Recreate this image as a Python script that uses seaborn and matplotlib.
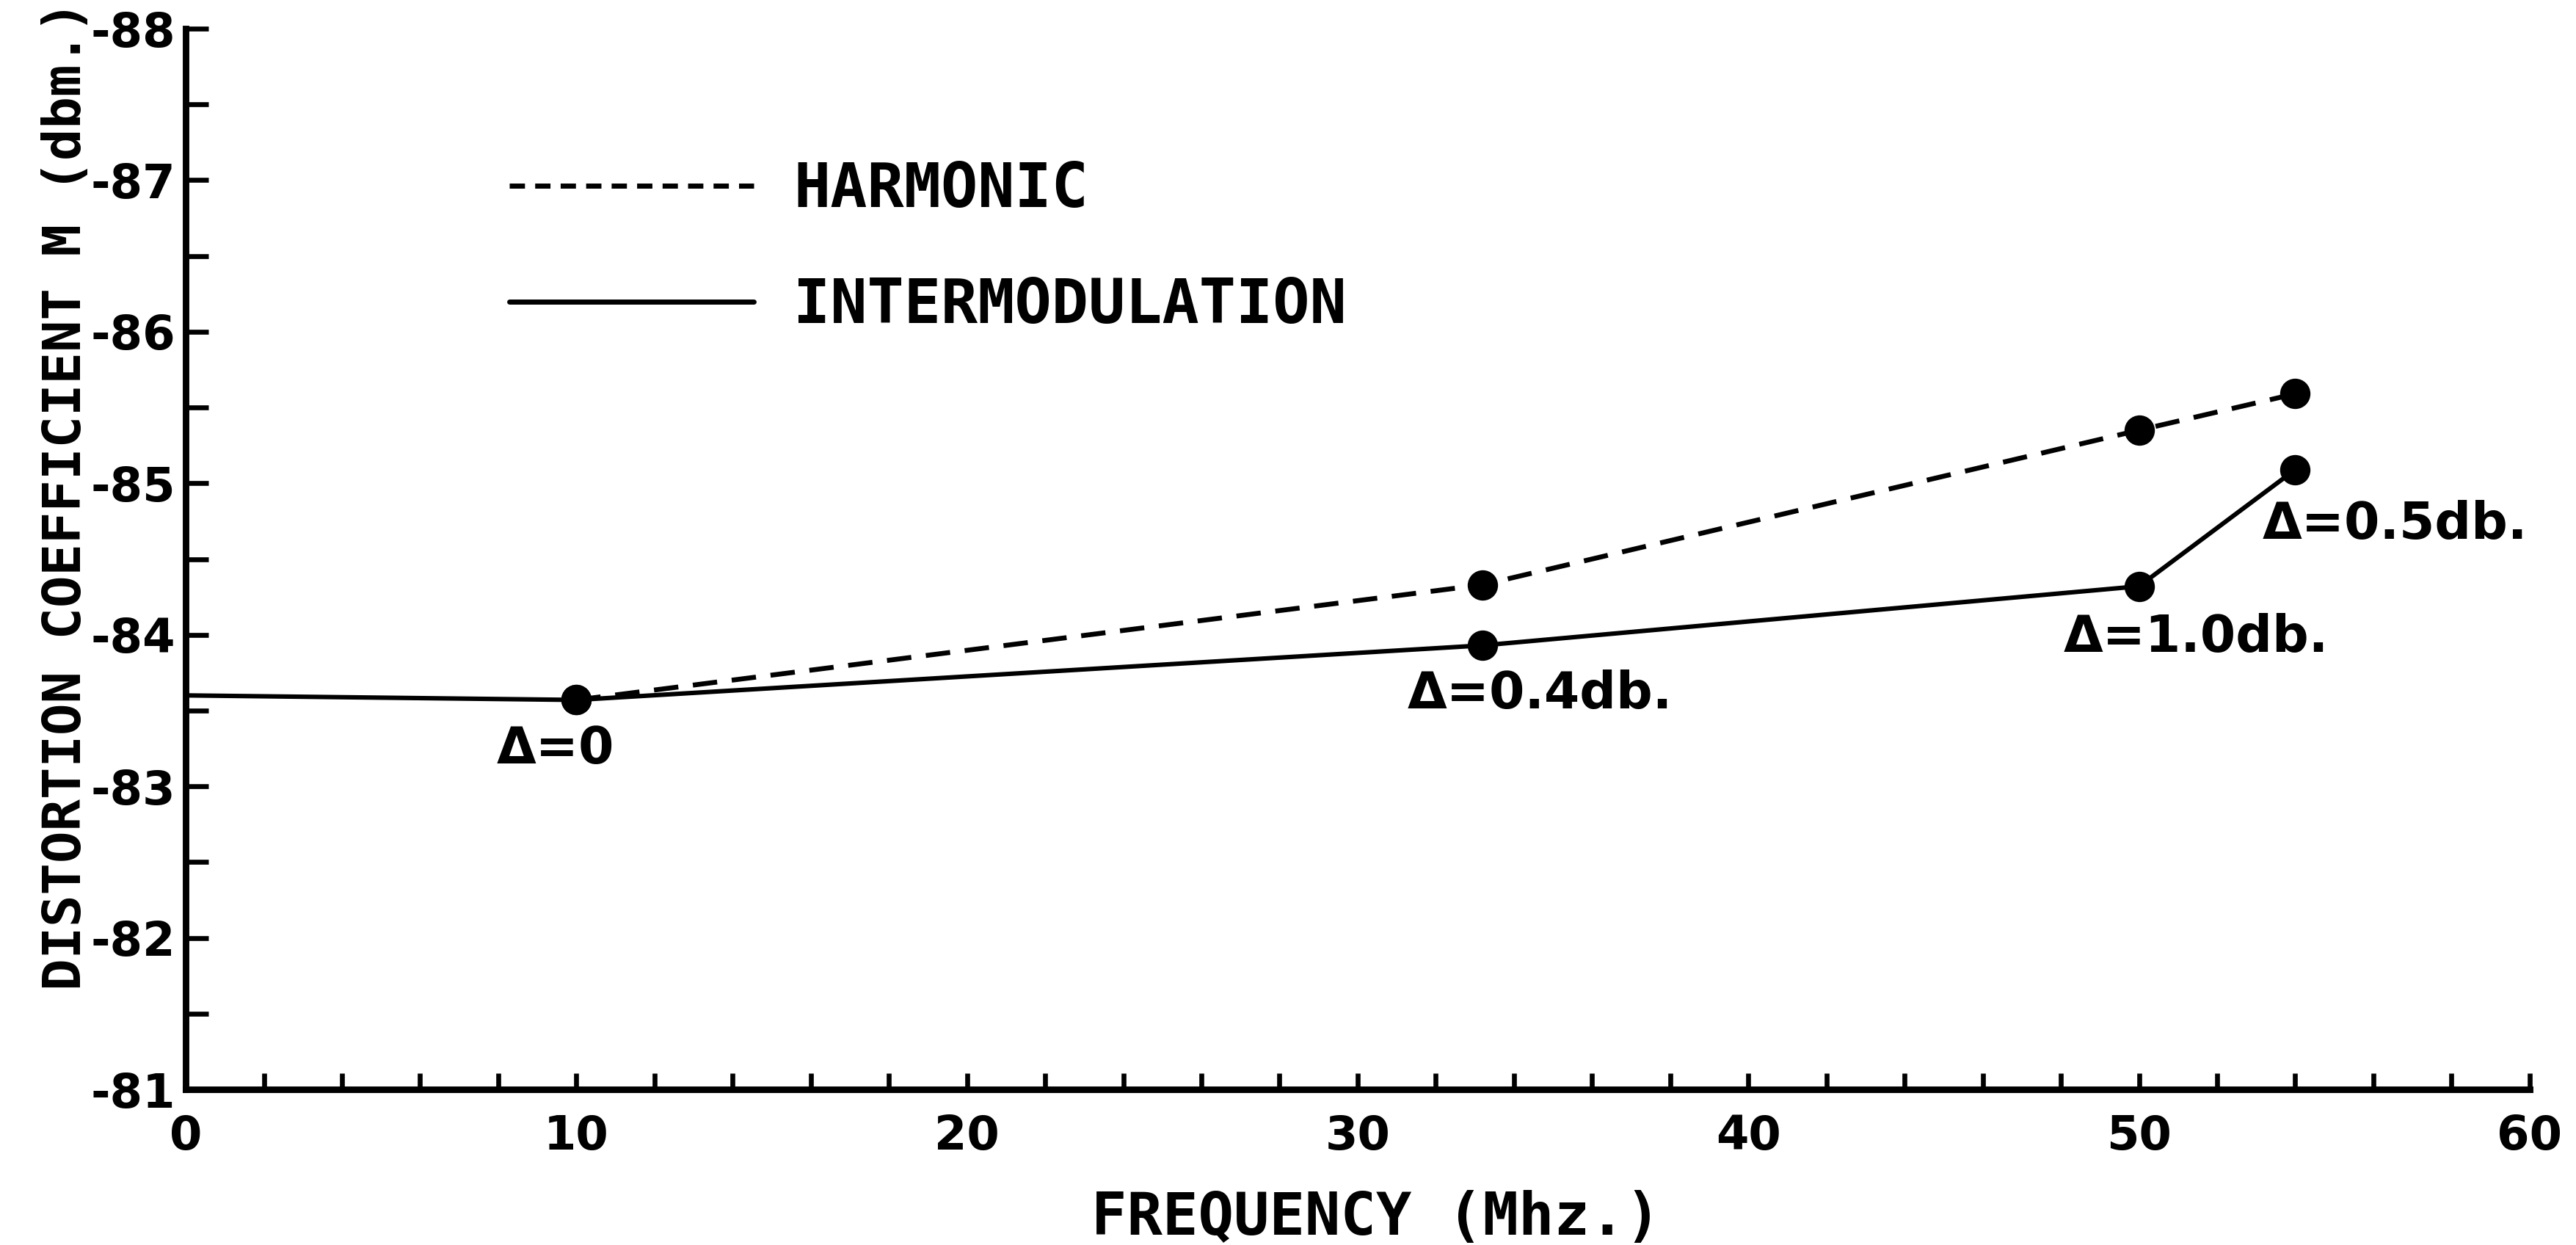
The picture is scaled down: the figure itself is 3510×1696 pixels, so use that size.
import matplotlib
matplotlib.use("Agg")
import matplotlib.pyplot as plt
import numpy as np
import pandas as pd
import seaborn as sns
from matplotlib.lines import Line2D
from matplotlib.ticker import MultipleLocator

# values
harmonic_freq = [10, 33.2, 50, 54]
harmonic_m = [-83.57, -84.33, -85.35, -85.59]

intermod_freq = [0, 10, 33.2, 50, 54]
intermod_m = [-83.6, -83.57, -83.93, -84.32, -85.09]

delta_labels = ["\u0394=0", "\u0394=0.4db.", "\u0394=1.0db.", "\u0394=0.5db."]
# offsets (points) of each label from its intermod point
delta_offsets = [(-39, -24), (-37, -24), (-37, -25), (-16, -27)]

sns.set_theme(style="ticks")
plt.rcParams['font.family'] = ['DejaVu Sans']
plt.rcParams['axes.unicode_minus'] = False
plt.rcParams['text.color'] = 'black'
plt.rcParams['axes.labelcolor'] = 'black'
plt.rcParams['xtick.color'] = 'black'
plt.rcParams['ytick.color'] = 'black'

fig = plt.figure(figsize=(17.55, 8.48), dpi=200)
ax = fig.add_axes([0.0721, 0.125, 0.9099, 0.852])

harm = pd.DataFrame({"freq": harmonic_freq, "m": harmonic_m})
inter = pd.DataFrame({"freq": intermod_freq, "m": intermod_m})

sns.lineplot(data=harm, x="freq", y="m", ax=ax, color="black", lw=2.4,
             linestyle=(0, (5, 3)), legend=False)
sns.lineplot(data=inter, x="freq", y="m", ax=ax, color="black", lw=2.2,
             legend=False)
sns.scatterplot(data=harm, x="freq", y="m", ax=ax, color="black",
                s=190, edgecolor="black", zorder=5, legend=False)
sns.scatterplot(data=inter.iloc[1:], x="freq", y="m", ax=ax, color="black",
                s=190, edgecolor="black", zorder=5, legend=False)

for i, (lab, off) in enumerate(zip(delta_labels, delta_offsets)):
    ax.annotate(lab, (inter["freq"].iloc[i + 1], inter["m"].iloc[i + 1]),
                xytext=off, textcoords="offset points", ha="left", va="center",
                fontsize=25, fontweight="bold")

ax.set_xlim(0, 60)
ax.set_ylim(-81, -88)
ax.xaxis.set_major_locator(MultipleLocator(10))
ax.xaxis.set_minor_locator(MultipleLocator(2))
ax.yaxis.set_major_locator(MultipleLocator(1))
ax.yaxis.set_minor_locator(MultipleLocator(0.5))

ax.tick_params(axis="x", which="both", direction="in", length=8, width=2.4,
               color="black", pad=12, labelsize=23)
ax.tick_params(axis="y", which="both", direction="in", length=11, width=2.4,
               color="black", pad=5, labelsize=23)
for t in ax.get_xticklabels() + ax.get_yticklabels():
    t.set_fontweight("bold")

sns.despine(ax=ax)
for side in ["left", "bottom"]:
    ax.spines[side].set_linewidth(3.2)
    ax.spines[side].set_color("black")

ax.set_xlabel("FREQUENCY (Mhz.)", fontsize=29, family="DejaVu Sans Mono",
              fontweight="bold")
ax.set_ylabel("DISTORTION COEFFICIENT M (dbm.)", fontsize=26,
              family="DejaVu Sans Mono", fontweight="bold")
ax.xaxis.set_label_coords(0.508, -0.095)
ax.yaxis.set_label_coords(-0.04, 0.56)

handles = [Line2D([], [], color="black", lw=2.5, linestyle=(0, (3, 2))),
           Line2D([], [], color="black", lw=2.5)]
ax.legend(handles, ["HARMONIC", "INTERMODULATION"], loc="upper left",
          bbox_to_anchor=(0.138, 0.876), frameon=False, borderaxespad=0,
          borderpad=0, handlelength=4.0, handletextpad=0.65, labelspacing=0.92,
          prop={"family": "DejaVu Sans Mono", "size": 30, "weight": "bold"})

fig.savefig("out.png", dpi=200, facecolor="white")
